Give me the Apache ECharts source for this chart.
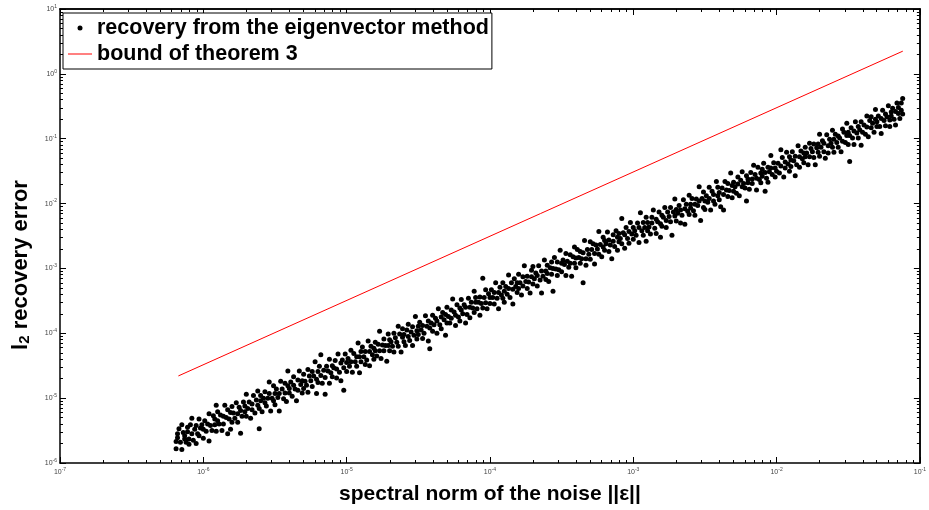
<!DOCTYPE html>
<html>
<head>
<meta charset="utf-8">
<script src="https://cdn.jsdelivr.net/npm/echarts@6/dist/echarts.min.js"></script>
<style>
  html, body { margin: 0; padding: 0; background: #fff; }
  #main { width: 929px; height: 510px; }
</style>
</head>
<body>
<div id="main"></div>
<script>
// axis decades (exponents of ten)
const xDecades = [-7, -6, -5, -4, -3, -2, -1];
const yDecades = [-6, -5, -4, -3, -2, -1, 0, 1];

// recovery error vs noise norm as [log10 noise, log10 error]
const recoveryLog = [
  [-6.19,-5.67],[-6.18,-5.55],[-6.19,-5.78],[-6.17,-5.47],[-6.16,-5.68],[-6.18,-5.61],[-6.15,-5.79],[-6.14,-5.53],
  [-6.13,-5.63],[-6.15,-5.41],[-6.12,-5.68],[-6.11,-5.45],[-6.13,-5.58],[-6.10,-5.71],[-6.11,-5.52],[-6.10,-5.63],
  [-6.09,-5.41],[-6.08,-5.55],[-6.07,-5.65],[-6.08,-5.31],[-6.06,-5.48],[-6.05,-5.70],[-6.05,-5.42],[-6.04,-5.55],
  [-6.03,-5.32],[-6.02,-5.46],[-6.03,-5.58],[-6.01,-5.41],[-6.00,-5.62],[-6.00,-5.48],
  [-5.99,-5.35],[-5.98,-5.51],[-5.97,-5.40],[-5.96,-5.66],[-5.96,-5.24],[-5.95,-5.42],[-5.94,-5.50],[-5.93,-5.27],
  [-5.92,-5.41],[-5.92,-5.32],[-5.91,-5.51],[-5.90,-5.21],[-5.90,-5.35],[-5.91,-5.11],
  [-5.89,-5.40],[-5.88,-5.26],[-5.87,-5.50],[-5.86,-5.28],[-5.86,-5.40],[-5.85,-5.11],[-5.84,-5.30],[-5.83,-5.55],
  [-5.83,-5.18],[-5.82,-5.32],[-5.81,-5.22],[-5.80,-5.37],[-5.80,-5.13],[-5.81,-5.48],
  [-5.79,-5.23],[-5.78,-5.31],[-5.77,-5.07],[-5.76,-5.24],[-5.76,-5.37],[-5.75,-5.14],[-5.74,-5.54],[-5.74,-5.19],
  [-5.73,-5.28],[-5.72,-5.06],[-5.71,-5.21],[-5.71,-5.12],[-5.70,-5.28],[-5.70,-4.94],
  [-5.69,-5.16],[-5.68,-5.06],[-5.67,-5.31],[-5.66,-5.09],[-5.66,-5.18],[-5.65,-4.96],[-5.64,-5.23],[-5.63,-5.03],
  [-5.62,-5.11],[-5.62,-4.89],[-5.61,-5.47],[-5.61,-5.16],[-5.60,-5.04],[-5.60,-4.96],
  [-5.59,-5.21],[-5.58,-5.00],[-5.57,-5.07],[-5.57,-4.90],[-5.56,-5.12],[-5.55,-5.00],[-5.54,-4.75],[-5.54,-4.93],
  [-5.53,-5.20],[-5.52,-5.00],[-5.51,-5.04],[-5.51,-4.81],[-5.50,-4.93],[-5.50,-5.10],
  [-5.49,-4.86],[-5.48,-4.99],[-5.47,-4.93],[-5.47,-5.20],[-5.46,-4.74],[-5.45,-4.86],[-5.44,-5.01],[-5.43,-4.77],
  [-5.43,-4.92],[-5.42,-5.05],[-5.41,-4.81],[-5.41,-4.58],[-5.40,-4.92],[-5.40,-4.85],
  [-5.39,-4.75],[-5.38,-4.97],[-5.37,-4.80],[-5.37,-4.67],[-5.36,-4.86],[-5.35,-5.04],[-5.34,-4.72],[-5.34,-4.88],
  [-5.33,-4.58],[-5.32,-4.79],[-5.31,-4.92],[-5.31,-4.73],[-5.30,-4.63],[-5.30,-4.85],
  [-5.29,-4.74],[-5.28,-4.80],[-5.27,-4.56],[-5.27,-4.91],[-5.26,-4.66],[-5.25,-4.73],[-5.24,-4.82],[-5.24,-4.59],
  [-5.23,-4.66],[-5.22,-4.44],[-5.21,-4.93],[-5.21,-4.71],[-5.20,-4.59],[-5.20,-4.76],
  [-5.19,-4.51],[-5.18,-4.33],[-5.18,-4.65],[-5.17,-4.77],[-5.16,-4.57],[-5.15,-4.94],[-5.15,-4.68],[-5.14,-4.51],
  [-5.13,-4.58],[-5.12,-4.77],[-5.12,-4.40],[-5.11,-4.61],[-5.10,-4.50],[-5.10,-4.67],
  [-5.09,-4.53],[-5.08,-4.42],[-5.07,-4.69],[-5.07,-4.55],[-5.06,-4.32],[-5.05,-4.60],[-5.04,-4.46],[-5.04,-4.73],
  [-5.03,-4.41],[-5.02,-4.88],[-5.02,-4.53],[-5.01,-4.32],[-5.00,-4.45],[-5.00,-4.59],
  [-4.99,-4.39],[-4.98,-4.51],[-4.97,-4.26],[-4.97,-4.44],[-4.96,-4.60],[-4.95,-4.31],[-4.94,-4.44],[-4.93,-4.36],
  [-4.93,-4.51],[-4.92,-4.15],[-4.91,-4.36],[-4.91,-4.61],[-4.90,-4.28],[-4.90,-4.44],
  [-4.89,-4.21],[-4.88,-4.36],[-4.87,-4.48],[-4.87,-4.28],[-4.86,-4.41],[-4.85,-4.12],[-4.84,-4.28],[-4.84,-4.50],
  [-4.83,-4.20],[-4.82,-4.33],[-4.81,-4.23],[-4.81,-4.40],[-4.80,-4.14],[-4.80,-4.27],
  [-4.79,-4.35],[-4.78,-4.17],[-4.77,-4.27],[-4.77,-3.97],[-4.76,-4.39],[-4.75,-4.18],[-4.74,-4.09],[-4.74,-4.27],
  [-4.73,-4.19],[-4.72,-4.43],[-4.71,-4.01],[-4.71,-4.19],[-4.70,-4.10],[-4.70,-4.27],
  [-4.69,-4.13],[-4.68,-4.20],[-4.67,-4.00],[-4.67,-4.29],[-4.66,-4.07],[-4.65,-4.14],[-4.64,-3.89],[-4.64,-4.20],
  [-4.63,-4.01],[-4.62,-4.29],[-4.61,-4.06],[-4.61,-3.93],[-4.60,-4.13],[-4.60,-4.02],
  [-4.59,-4.19],[-4.58,-3.95],[-4.57,-4.05],[-4.57,-3.86],[-4.56,-4.11],[-4.55,-3.98],[-4.54,-4.19],[-4.54,-3.90],
  [-4.53,-4.03],[-4.52,-3.74],[-4.51,-3.96],[-4.51,-4.09],[-4.50,-3.89],[-4.50,-4.02],
  [-4.49,-3.83],[-4.48,-3.95],[-4.47,-4.08],[-4.47,-3.88],[-4.46,-4.00],[-4.45,-3.73],[-4.44,-3.89],[-4.43,-4.12],
  [-4.43,-3.81],[-4.42,-4.24],[-4.42,-3.92],[-4.41,-3.84],[-4.40,-3.97],[-4.40,-3.72],
  [-4.39,-3.87],[-4.38,-3.77],[-4.37,-4.00],[-4.37,-3.81],[-4.36,-3.62],[-4.35,-3.87],[-4.34,-3.75],[-4.34,-3.93],
  [-4.33,-3.68],[-4.32,-3.79],[-4.31,-4.03],[-4.31,-3.71],[-4.30,-3.84],[-4.30,-3.60],
  [-4.29,-3.74],[-4.28,-3.84],[-4.27,-3.64],[-4.27,-3.77],[-4.26,-3.47],[-4.25,-3.67],[-4.24,-3.88],[-4.24,-3.72],
  [-4.23,-3.56],[-4.22,-3.75],[-4.21,-3.61],[-4.21,-3.81],[-4.20,-3.64],[-4.20,-3.48],
  [-4.19,-3.70],[-4.18,-3.56],[-4.17,-3.84],[-4.17,-3.60],[-4.16,-3.71],[-4.15,-3.46],[-4.14,-3.60],[-4.14,-3.76],
  [-4.13,-3.52],[-4.12,-3.61],[-4.11,-3.35],[-4.11,-3.68],[-4.10,-3.52],[-4.10,-3.45],
  [-4.09,-3.62],[-4.08,-3.52],[-4.07,-3.72],[-4.07,-3.44],[-4.06,-3.54],[-4.05,-3.15],[-4.05,-3.61],[-4.04,-3.45],
  [-4.03,-3.33],[-4.03,-3.53],[-4.02,-3.62],[-4.01,-3.39],[-4.00,-3.45],[-4.00,-3.54],
  [-3.99,-3.33],[-3.98,-3.45],[-3.97,-3.55],[-3.97,-3.37],[-3.96,-3.22],[-3.95,-3.46],[-3.94,-3.37],[-3.94,-3.62],
  [-3.93,-3.29],[-3.92,-3.41],[-3.91,-3.46],[-3.91,-3.22],[-3.90,-3.35],[-3.90,-3.52],
  [-3.89,-3.28],[-3.88,-3.40],[-3.87,-3.10],[-3.87,-3.31],[-3.86,-3.45],[-3.85,-3.22],[-3.84,-3.32],[-3.84,-3.55],
  [-3.83,-3.16],[-3.82,-3.28],[-3.81,-3.37],[-3.81,-3.22],[-3.80,-3.09],[-3.80,-3.31],
  [-3.79,-3.22],[-3.78,-3.41],[-3.77,-3.13],[-3.77,-3.27],[-3.76,-2.96],[-3.75,-3.20],[-3.74,-3.31],[-3.74,-3.12],
  [-3.73,-3.21],[-3.72,-3.38],[-3.71,-3.03],[-3.71,-3.13],[-3.70,-3.24],[-3.70,-2.97],
  [-3.69,-3.16],[-3.68,-3.07],[-3.67,-3.27],[-3.67,-3.11],[-3.66,-2.96],[-3.65,-3.18],[-3.64,-3.38],[-3.64,-3.04],
  [-3.63,-3.12],[-3.62,-2.87],[-3.61,-3.04],[-3.61,-3.17],[-3.60,-2.95],[-3.60,-3.08],
  [-3.59,-3.20],[-3.58,-2.99],[-3.57,-2.90],[-3.57,-3.09],[-3.56,-3.35],[-3.56,-3.00],[-3.55,-2.83],[-3.54,-3.01],
  [-3.53,-3.11],[-3.53,-2.90],[-3.52,-3.02],[-3.51,-2.72],[-3.50,-2.92],[-3.50,-3.05],
  [-3.49,-2.87],[-3.48,-2.94],[-3.47,-3.11],[-3.47,-2.77],[-3.46,-2.89],[-3.45,-2.98],[-3.44,-2.79],[-3.44,-2.92],
  [-3.43,-3.12],[-3.42,-2.82],[-3.41,-2.67],[-3.41,-2.92],[-3.40,-2.84],[-3.40,-2.99],
  [-3.39,-2.71],[-3.38,-2.83],[-3.37,-2.92],[-3.37,-2.74],[-3.36,-2.85],[-3.35,-3.22],[-3.35,-2.76],[-3.34,-2.57],
  [-3.33,-2.85],[-3.33,-2.95],[-3.32,-2.71],[-3.31,-2.78],[-3.30,-2.59],[-3.30,-2.86],
  [-3.29,-2.71],[-3.28,-2.62],[-3.27,-2.77],[-3.27,-2.93],[-3.26,-2.64],[-3.25,-2.70],[-3.24,-2.43],[-3.24,-2.78],
  [-3.23,-2.63],[-3.22,-2.82],[-3.21,-2.52],[-3.21,-2.67],[-3.20,-2.57],[-3.20,-2.72],
  [-3.19,-2.62],[-3.18,-2.44],[-3.17,-2.74],[-3.17,-2.56],[-3.16,-2.64],[-3.15,-2.85],[-3.14,-2.48],[-3.14,-2.58],
  [-3.13,-2.66],[-3.12,-2.42],[-3.11,-2.52],[-3.11,-2.72],[-3.10,-2.46],[-3.10,-2.59],
  [-3.09,-2.54],[-3.08,-2.23],[-3.08,-2.62],[-3.07,-2.45],[-3.06,-2.69],[-3.06,-2.48],[-3.05,-2.37],[-3.04,-2.54],
  [-3.03,-2.43],[-3.03,-2.61],[-3.02,-2.29],[-3.01,-2.47],[-3.00,-2.37],[-3.00,-2.55],
  [-2.99,-2.42],[-2.98,-2.49],[-2.97,-2.30],[-2.96,-2.60],[-2.96,-2.37],[-2.95,-2.14],[-2.94,-2.42],[-2.93,-2.49],
  [-2.93,-2.29],[-2.92,-2.37],[-2.91,-2.58],[-2.91,-2.21],[-2.90,-2.42],[-2.90,-2.29],
  [-2.89,-2.36],[-2.88,-2.47],[-2.87,-2.21],[-2.87,-2.30],[-2.86,-2.10],[-2.85,-2.38],[-2.84,-2.24],[-2.84,-2.46],
  [-2.83,-2.28],[-2.82,-2.13],[-2.81,-2.31],[-2.81,-2.52],[-2.80,-2.18],[-2.80,-2.35],
  [-2.79,-2.21],[-2.78,-2.06],[-2.77,-2.26],[-2.77,-2.37],[-2.76,-2.13],[-2.75,-2.20],[-2.74,-2.28],[-2.74,-2.06],
  [-2.73,-2.49],[-2.72,-2.13],[-2.71,-2.19],[-2.71,-1.93],[-2.70,-2.27],[-2.70,-2.09],
  [-2.69,-2.15],[-2.68,-2.03],[-2.67,-2.30],[-2.67,-2.10],[-2.66,-2.18],[-2.65,-1.94],[-2.64,-2.08],[-2.64,-2.32],
  [-2.63,-2.01],[-2.62,-2.12],[-2.61,-1.87],[-2.61,-2.17],[-2.60,-2.01],[-2.60,-2.07],
  [-2.59,-1.92],[-2.58,-2.11],[-2.57,-2.01],[-2.57,-2.18],[-2.56,-1.93],[-2.55,-2.03],[-2.54,-1.74],[-2.54,-1.96],
  [-2.53,-2.26],[-2.52,-1.92],[-2.51,-2.06],[-2.51,-1.82],[-2.50,-1.96],[-2.50,-2.09],
  [-2.49,-1.88],[-2.48,-1.98],[-2.47,-1.75],[-2.47,-1.92],[-2.46,-2.10],[-2.45,-1.81],[-2.44,-1.96],[-2.44,-1.86],
  [-2.43,-2.01],[-2.42,-1.66],[-2.41,-1.88],[-2.41,-1.75],[-2.40,-1.94],[-2.40,-1.83],
  [-2.39,-2.05],[-2.38,-1.76],[-2.37,-1.86],[-2.37,-2.10],[-2.36,-1.66],[-2.35,-1.79],[-2.34,-1.89],[-2.34,-1.69],
  [-2.33,-1.80],[-2.32,-1.53],[-2.31,-1.72],[-2.31,-1.91],[-2.30,-1.81],[-2.30,-1.67],
  [-2.29,-1.74],[-2.28,-1.84],[-2.27,-1.59],[-2.27,-1.70],[-2.26,-1.88],[-2.25,-1.64],[-2.24,-1.74],[-2.24,-1.51],
  [-2.23,-1.69],[-2.22,-1.76],[-2.21,-1.96],[-2.21,-1.57],[-2.20,-1.68],[-2.20,-1.62],
  [-2.19,-1.78],[-2.18,-1.52],[-2.17,-1.62],[-2.17,-1.69],[-2.16,-1.41],[-2.15,-1.55],[-2.14,-1.79],[-2.14,-1.61],
  [-2.13,-1.44],[-2.12,-1.63],[-2.11,-1.53],[-2.11,-1.68],[-2.10,-1.47],[-2.10,-1.58],
  [-2.09,-1.38],[-2.08,-1.81],[-2.08,-1.52],[-2.07,-1.61],[-2.06,-1.44],[-2.06,-1.67],[-2.05,-1.51],[-2.04,-1.26],
  [-2.04,-1.45],[-2.03,-1.55],[-2.02,-1.37],[-2.01,-1.59],[-2.01,-1.45],[-2.00,-1.50],
  [-1.99,-1.38],[-1.98,-1.53],[-1.97,-1.17],[-1.97,-1.42],[-1.96,-1.29],[-1.95,-1.59],[-1.94,-1.36],[-1.94,-1.45],
  [-1.93,-1.21],[-1.92,-1.39],[-1.91,-1.50],[-1.91,-1.28],[-1.90,-1.33],[-1.90,-1.43],
  [-1.89,-1.20],[-1.88,-1.34],[-1.87,-1.57],[-1.87,-1.27],[-1.86,-1.40],[-1.85,-1.11],[-1.84,-1.28],[-1.84,-1.44],
  [-1.83,-1.19],[-1.82,-1.31],[-1.81,-1.22],[-1.81,-1.37],[-1.80,-1.13],[-1.80,-1.28],
  [-1.79,-1.22],[-1.78,-1.40],[-1.77,-1.07],[-1.77,-1.28],[-1.76,-1.15],[-1.75,-1.20],[-1.74,-1.29],[-1.74,-1.08],
  [-1.73,-1.40],[-1.72,-1.14],[-1.71,-1.21],[-1.71,-1.08],[-1.70,-0.93],[-1.70,-1.27],
  [-1.69,-1.13],[-1.68,-1.03],[-1.67,-1.20],[-1.67,-1.07],[-1.66,-1.30],[-1.65,-0.94],[-1.64,-1.11],[-1.64,-1.22],
  [-1.63,-1.01],[-1.62,-1.07],[-1.61,-0.87],[-1.61,-1.13],[-1.60,-1.01],[-1.60,-1.21],
  [-1.59,-0.93],[-1.58,-1.06],[-1.57,-1.13],[-1.57,-0.96],[-1.56,-0.99],[-1.55,-1.20],[-1.54,-0.85],[-1.54,-1.04],
  [-1.53,-0.90],[-1.52,-1.06],[-1.51,-0.76],[-1.51,-0.95],[-1.50,-1.09],[-1.50,-0.90],
  [-1.49,-1.35],[-1.49,-0.95],[-1.48,-0.83],[-1.47,-0.99],[-1.46,-0.88],[-1.46,-1.09],[-1.45,-0.74],[-1.44,-0.91],
  [-1.43,-0.81],[-1.43,-0.99],[-1.42,-0.86],[-1.41,-0.74],[-1.41,-1.10],[-1.40,-0.90],
  [-1.39,-0.79],[-1.38,-0.93],[-1.37,-0.65],[-1.37,-0.82],[-1.36,-0.97],[-1.35,-0.72],[-1.34,-0.83],[-1.34,-0.66],
  [-1.33,-0.76],[-1.32,-0.90],[-1.31,-0.70],[-1.31,-0.55],[-1.30,-0.81],[-1.30,-0.74],
  [-1.29,-0.65],[-1.28,-0.81],[-1.27,-0.69],[-1.27,-0.92],[-1.26,-0.56],[-1.25,-0.72],[-1.24,-0.62],[-1.24,-0.80],
  [-1.23,-0.66],[-1.22,-0.49],[-1.21,-0.71],[-1.21,-0.81],[-1.20,-0.59],[-1.20,-0.65],
  [-1.19,-0.53],[-1.18,-0.70],[-1.17,-0.58],[-1.17,-0.79],[-1.16,-0.45],[-1.15,-0.61],[-1.15,-0.52],[-1.14,-0.69],
  [-1.13,-0.45],[-1.13,-0.56],[-1.12,-0.62],[-1.12,-0.38]
];

// bound of theorem 3: straight line end points [noise, error]
const boundPts = [[6.7e-7, 2.2e-5], [0.076, 2.24]];

const recoveryPts = recoveryLog.map(p => [Math.pow(10, p[0]), Math.pow(10, p[1])]);

const FONT = 'Liberation Sans, Arial, sans-serif';

function minorExps(exps) {
  let out = [];
  for (let i = 0; i < exps.length - 1; i++) {
    for (let k = 2; k <= 9; k++) out.push(exps[i] + Math.log10(k));
  }
  return out;
}
const labelRich = {
  b: { fontSize: 7, color: '#444', fontFamily: FONT },
  e: { fontSize: 5, color: '#444', fontFamily: FONT, verticalAlign: 'top', padding: [0, 0, 5, 0] }
};

// data axis (log scale) - carries the series, draws only the frame line
function dataAxis(pos, exps) {
  return {
    type: 'log', logBase: 10, position: pos,
    min: Math.pow(10, exps[0]), max: Math.pow(10, exps[exps.length - 1]),
    axisLine: { show: true, onZero: false, lineStyle: { color: '#000', width: 1.5 } },
    axisTick: { show: false }, axisLabel: { show: false }, splitLine: { show: false }
  };
}
// tick-only axes in decade units, for the matlab style inward ticks
function tickAxis(dir, pos, exps, minor, withLabel) {
  const ax = {
    type: 'value', position: pos,
    min: exps[0], max: exps[exps.length - 1],
    axisLine: { show: pos === 'top' || pos === 'right', onZero: false, lineStyle: { color: '#000', width: 1.5 } },
    axisTick: { show: true, inside: true, length: minor ? 3 : 6, lineStyle: { color: '#000', width: 1 } },
    axisLabel: { show: false },
    splitLine: { show: false }
  };
  if (minor) {
    ax.axisTick.customValues = minorExps(exps);
  } else {
    ax.interval = 1;
  }
  if (withLabel) {
    ax.axisLabel = {
      show: true, margin: dir === 'x' ? 4 : 3,
      formatter: v => '{b|10}{e|' + v + '}', rich: labelRich,
      showMinLabel: true, showMaxLabel: true, hideOverlap: false
    };
  }
  return ax;
}

const chart = echarts.init(document.getElementById('main'));

const xMain = dataAxis('bottom', xDecades);
xMain.name = 'spectral norm of the noise ||\u03b5||';
xMain.nameLocation = 'middle';
xMain.nameGap = 21;
xMain.nameTextStyle = { fontFamily: FONT, fontWeight: 'bold', fontSize: 21, color: '#000' };

const yMain = dataAxis('left', yDecades);
yMain.name = '{l|l}{s|2}{l| recovery error}';
yMain.nameLocation = 'middle';
yMain.nameGap = 28;
yMain.nameTextStyle = {
  padding: [0, 58, 0, 0],
  rich: {
    l: { fontFamily: FONT, fontWeight: 'bold', fontSize: 22, color: '#000' },
    s: { fontFamily: FONT, fontWeight: 'bold', fontSize: 15, color: '#000', verticalAlign: 'bottom', padding: [8, 0, 0, 0] }
  }
};

const option = {
  animation: false,
  backgroundColor: '#fff',
  grid: { left: 60, right: 4, top: 9, bottom: 36, containLabel: false },
  legend: {
    orient: 'vertical',
    left: 63, top: 13,
    padding: [4, 3, 4, 5],
    itemGap: 4,
    itemWidth: 24, itemHeight: 5,
    backgroundColor: '#fff',
    borderColor: '#000', borderWidth: 1,
    textStyle: { fontFamily: FONT, fontWeight: 'bold', fontSize: 21.5, color: '#000' },
    data: [
      { name: 'recovery from the eigenvector method', icon: 'circle' },
      { name: 'bound of theorem 3', icon: 'path://M0,0L24,0L24,1L0,1Z' }
    ]
  },
  xAxis: [
    xMain,
    tickAxis('x', 'bottom', xDecades, false, true),
    tickAxis('x', 'bottom', xDecades, true, false),
    tickAxis('x', 'top', xDecades, false, false),
    tickAxis('x', 'top', xDecades, true, false)
  ],
  yAxis: [
    yMain,
    tickAxis('y', 'left', yDecades, false, true),
    tickAxis('y', 'left', yDecades, true, false),
    tickAxis('y', 'right', yDecades, false, false),
    tickAxis('y', 'right', yDecades, true, false)
  ],
  series: [
    {
      name: 'recovery from the eigenvector method',
      type: 'scatter',
      xAxisIndex: 0, yAxisIndex: 0,
      symbol: 'circle', symbolSize: 5,
      itemStyle: { color: '#000', opacity: 1 },
      data: recoveryPts
    },
    {
      name: 'bound of theorem 3',
      type: 'line',
      xAxisIndex: 0, yAxisIndex: 0,
      symbol: 'none',
      lineStyle: { color: '#ff0000', width: 1 },
      itemStyle: { color: '#ff0000' },
      data: boundPts
    }
  ]
};

chart.setOption(option);
</script>
</body>
</html>
